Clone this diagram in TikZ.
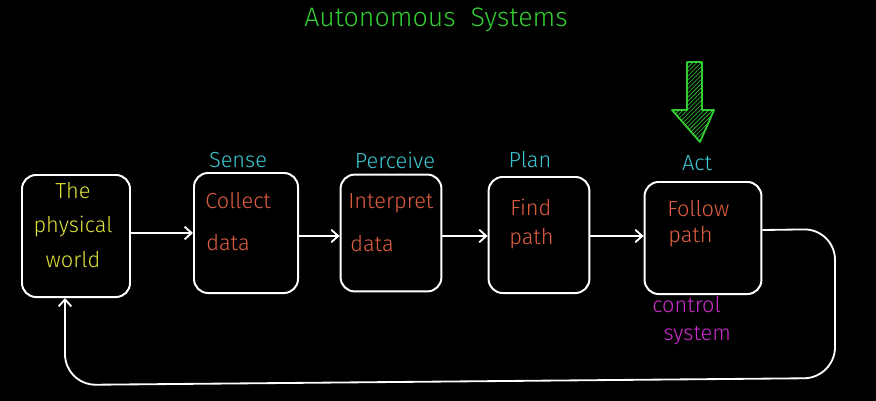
\documentclass[tikz,border=0pt]{standalone}
\usepackage{fontspec}
\setmainfont{Fira Sans Light}
\usetikzlibrary{arrows.meta,patterns,calc}
\definecolor{ttl}{RGB}{50,205,50}
\definecolor{lbl}{RGB}{60,200,210}
\definecolor{inner}{RGB}{225,95,65}
\definecolor{yel}{RGB}{225,225,60}
\definecolor{mag}{RGB}{205,45,205}
\begin{document}
\begin{tikzpicture}[x=0.025cm,y=-0.025cm,
  box/.style={draw=white,line width=1.4pt,rounded corners=10pt,minimum width=2.55cm,minimum height=2.95cm},
  txt/.style={font=\fontsize{15.5}{19}\selectfont,inner sep=0pt},
  arr/.style={draw=white,line width=1.3pt,-{Straight Barb[length=5pt,width=9pt]}}]
\fill[black] (0,0) rectangle (876,401);
\useasboundingbox (0,0) rectangle (876,401);
% title
\node[txt,text=ttl,font=\fontsize{19}{22}\selectfont] (title) at (436,20) {Autonomous\ \ Systems};
% boxes
\node[box,minimum width=2.7cm,minimum height=3.05cm] (w) at (76,236) {};
\node[box,minimum width=2.6cm,minimum height=3.0cm] (c) at (246,233) {};
\node[box,minimum width=2.52cm,minimum height=2.92cm] (i) at (391,233) {};
\node[box,minimum width=2.52cm,minimum height=2.9cm] (p) at (539,235) {};
\node[box,minimum width=2.92cm,minimum height=2.8cm] (f) at (703,238) {};
% texts in boxes
\node[txt,text=yel,align=center] (wt) at (73,225) {The\\[5pt]physical\\[6pt]world};
\node[txt,text=inner,anchor=west] (c1) at (205,201) {Collect};
\node[txt,text=inner,anchor=west] (c2) at (206,243) {data};
\node[txt,text=inner,anchor=west] (i1) at (348,203) {Interpret};
\node[txt,text=inner,anchor=west] (i2) at (350,244) {data};
\node[txt,text=inner,anchor=west] (p1) at (510,207) {Find};
\node[txt,text=inner,anchor=west] (p2) at (509,239) {path};
\node[txt,text=inner,anchor=west] (f1) at (667,209) {Follow};
\node[txt,text=inner,anchor=west] (f2) at (668,237) {path};
% stage labels
\node[txt,text=lbl] (ls) at (238,160) {Sense};
\node[txt,text=lbl] (lp) at (395,160) {Perceive};
\node[txt,text=lbl] (ll) at (530,160) {Plan};
\node[txt,text=lbl] (la) at (697,163) {Act};
% control system
\node[txt,text=mag,align=left,anchor=north west] (cs) at (652,296) {control\\[1pt]\hspace*{8pt}system};
% connectors
\draw[arr] (w.east |- 0,233) -- (c.west |- 0,233);
\draw[arr] (c.east |- 0,236) -- (i.west |- 0,236);
\draw[arr] (i.east |- 0,236) -- (p.west |- 0,236);
\draw[arr] (p.east |- 0,236) -- (f.west |- 0,236);
\coordinate (r1) at (835,229);
\coordinate (r2) at (835,378);
\coordinate (r3) at (65,385);
\draw[arr,rounded corners=22pt] (f.east |- 0,230) -- (r1) -- (r2) -- (r3) -- (w.south -| r3);
% green arrow
\draw[ttl,line width=1.3pt,pattern={north east lines},pattern color=ttl,line join=round]
  (687,62) -- (702,62) -- (702,110) -- (714,110) -- (700,142) -- (672,110) -- (687,110) -- cycle;
\end{tikzpicture}
\end{document}
